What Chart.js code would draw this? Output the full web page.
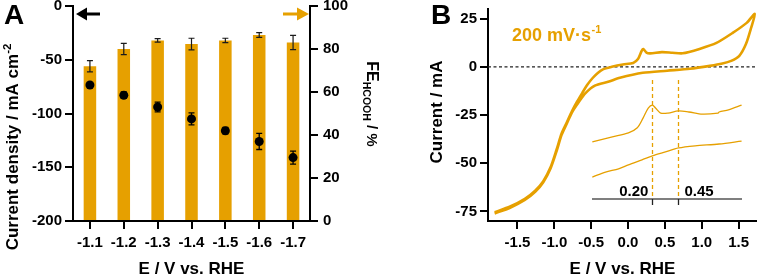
<!DOCTYPE html>
<html>
<head>
<meta charset="utf-8">
<script src="https://cdn.jsdelivr.net/npm/chart.js@4.4.1/dist/chart.umd.min.js"></script>
<style>
  body { margin: 0; background: #fff; }
  #wrap { position: relative; width: 757px; height: 276px; overflow: hidden; }
  canvas { position: absolute; }
</style>
</head>
<body>
<div id="wrap">
  <canvas id="chartA" width="380" height="276" style="left:0;top:0"></canvas>
  <canvas id="chartB" width="377" height="276" style="left:380px;top:0"></canvas>
  <canvas id="inset" width="154" height="136" style="left:592px;top:78px"></canvas>
</div>
<script>
// ---- panel A: electrolysis at fixed potential
const potentials = ['-1.1', '-1.2', '-1.3', '-1.4', '-1.5', '-1.6', '-1.7'];
const feHcooh = [72, 80, 84, 82.3, 84, 86.5, 83];
const feErr = [2.6, 2.6, 0.8, 2.7, 1.0, 1.1, 3.3];
const currentDensity = [-73.5, -83, -94, -105, -116, -126, -141];
const cdErr = [1.5, 3, 4.5, 5.5, 3, 7.5, 6];
const cdTicks = [0, -50, -100, -150, -200];
const feTicks = [0, 20, 40, 60, 80, 100];

// ---- panel B: cyclic voltammogram, 200 mV/s (path order: forward scan, then return)
const cvE = [-1.81, -1.6, -1.4, -1.26, -1.15, -1.05, -0.97, -0.9, -0.83, -0.76, -0.69, -0.62, -0.55, -0.48, -0.41, -0.34, -0.22, -0.07,
  0.07, 0.135, 0.185, 0.207, 0.25, 0.30, 0.46, 0.6, 0.74, 0.97, 1.2, 1.42, 1.61, 1.72,
  1.67, 1.60, 1.51, 1.40, 1.28, 1.11, 0.84, 0.53, 0.20, -0.11, -0.27, -0.45, -0.58, -0.67,
  -0.76, -0.83, -0.9, -0.97, -1.05, -1.15, -1.26, -1.4, -1.6, -1.81];
const cvI = [-75.5, -72.5, -68.5, -64.3, -59.3, -52, -43, -34.5, -28.8, -23, -18, -13.5, -9.2, -5.8, -3.2, -1.3, 0, 1.2,
  2, 4, 8.3, 9.2, 7.4, 7, 7.6, 7.3, 7, 9.3, 12.4, 17.6, 22.8, 27.5,
  20.2, 11.8, 5.7, 3.1, 1.7, 0.5, -1, -2, -3.1, -5.7, -7.8, -9.8, -13.8, -18.4,
  -23.6, -29.4, -35.2, -43.8, -52.6, -59.9, -64.9, -69.1, -73.1, -76.1];
const cvTicksX = [-1.5, -1.0, -0.5, 0, 0.5, 1.0, 1.5];
const cvTicksY = [-75, -50, -25, 0, 25];

// ---- inset: magnified region
const insetFwdE = [-0.377, -0.185, -0.03, 0.055, 0.11, 0.16, 0.20, 0.23, 0.28, 0.35, 0.45, 0.55, 0.68, 0.83, 0.84, 0.93, 1.056];
const insetFwdI = [-0.8, 0.6, 1.7, 3.1, 5.8, 8.6, 9.4, 8.6, 7.2, 7.2, 7.8, 7.5, 6.9, 7.2, 7.5, 8.1, 9.4];
const insetRevE = [-0.377, -0.25, -0.125, -0.03, 0.10, 0.20, 0.325, 0.45, 0.61, 0.84, 1.056];
const insetRevI = [-10.6, -9.2, -8.3, -7.2, -5.8, -4.7, -3.6, -2.5, -1.9, -1.4, -0.6];
const insetMarks = [0.20, 0.45];

const ORANGE = '#E6A000';
const FONT = "'Liberation Sans', Arial, sans-serif";
Chart.defaults.font.family = FONT;
Chart.defaults.color = '#000';

function richText(ctx, parts, x, y, rot, color) {
  ctx.save();
  ctx.translate(x, y);
  ctx.rotate(rot || 0);
  ctx.fillStyle = color || '#000';
  ctx.textBaseline = 'alphabetic';
  ctx.textAlign = 'left';
  let total = 0;
  parts.forEach(p => { ctx.font = 'bold ' + p[1] + 'px ' + FONT; p.w = ctx.measureText(p[0]).width; total += p.w; });
  let cx = -total / 2;
  parts.forEach(p => { ctx.font = 'bold ' + p[1] + 'px ' + FONT; ctx.fillText(p[0], cx, -(p[2] || 0)); cx += p.w; });
  ctx.restore();
}

function axisStyle(extra) {
  return Object.assign({
    grid: { drawOnChartArea: false, tickLength: 8, color: '#000', tickColor: '#000', lineWidth: 2, tickWidth: 2 },
    border: { color: '#000', width: 2 },
    ticks: { color: '#000', font: { size: 15, weight: 'bold' }, padding: 3 }
  }, extra);
}

// ---------- chart A
const panelA = {
  id: 'panelA',
  afterDraw(chart) {
    const ctx = chart.ctx, a = chart.chartArea;
    const y = chart.scales.y, y1 = chart.scales.y1;
    ctx.save();
    ctx.strokeStyle = '#1a1a1a';
    ctx.lineWidth = 1.2;
    const bars = chart.getDatasetMeta(0).data;
    const dots = chart.getDatasetMeta(1).data;
    function errBar(px, lo, hi) {
      ctx.beginPath();
      ctx.moveTo(px, lo); ctx.lineTo(px, hi);
      ctx.moveTo(px - 3, lo); ctx.lineTo(px + 3, lo);
      ctx.moveTo(px - 3, hi); ctx.lineTo(px + 3, hi);
      ctx.stroke();
    }
    feHcooh.forEach((v, i) => errBar(bars[i].x, y1.getPixelForValue(v - feErr[i]), y1.getPixelForValue(v + feErr[i])));
    ctx.strokeStyle = '#000';
    ctx.lineWidth = 1.3;
    currentDensity.forEach((v, i) => errBar(dots[i].x, y.getPixelForValue(v - cdErr[i]), y.getPixelForValue(v + cdErr[i])));

    // arrows pointing to each axis
    const ay = a.top + 8;
    ctx.fillStyle = '#000';
    ctx.fillRect(a.left + 12, ay - 1.5, 15, 3);
    ctx.beginPath();
    ctx.moveTo(a.left + 3, ay); ctx.lineTo(a.left + 14, ay - 6.5); ctx.lineTo(a.left + 14, ay + 6.5); ctx.closePath(); ctx.fill();
    ctx.fillStyle = ORANGE;
    ctx.fillRect(a.right - 27, ay - 1.5, 16, 3);
    ctx.beginPath();
    ctx.moveTo(a.right - 1, ay); ctx.lineTo(a.right - 13, ay - 6.5); ctx.lineTo(a.right - 13, ay + 6.5); ctx.closePath(); ctx.fill();
    ctx.restore();

    richText(ctx, [['A', 28]], 14, 24, 0);
    richText(ctx, [['Current density / mA cm', 17], ['-2', 11.5, 7]], 18, 147, -Math.PI / 2);
    richText(ctx, [['FE', 16], ['HCOOH', 10.5, -4], [' / %', 15]], 367, 104, Math.PI / 2);
    richText(ctx, [['E / V vs. RHE', 17]], (a.left + a.right) / 2, 274, 0);
  }
};

new Chart(document.getElementById('chartA'), {
  type: 'bar',
  data: {
    labels: potentials,
    datasets: [
      { type: 'bar', data: feHcooh, yAxisID: 'y1', backgroundColor: ORANGE, barPercentage: 0.37, categoryPercentage: 1, order: 2 },
      { type: 'line', data: currentDensity, yAxisID: 'y', showLine: false, pointRadius: 4.5,
        pointBackgroundColor: '#000', pointBorderColor: '#000', pointBorderWidth: 0, order: 1 }
    ]
  },
  options: {
    responsive: false, animation: false, devicePixelRatio: 1,
    layout: { padding: { top: 6, left: 0, right: 0, bottom: 0 } },
    plugins: { legend: { display: false }, tooltip: { enabled: false } },
    scales: {
      x: axisStyle({
        grid: { offset: false, drawOnChartArea: false, tickLength: 8, color: '#000', tickColor: '#000', lineWidth: 2, tickWidth: 2 },
        ticks: { color: '#000', font: { size: 15, weight: 'bold' }, padding: 5, maxRotation: 0 },
        afterFit(s) { s.height = 55; s.paddingLeft = 0; s.paddingRight = 0; }
      }),
      y: axisStyle({
        position: 'left', min: -200, max: 0,
        afterBuildTicks(s) { s.ticks = cdTicks.map(v => ({ value: v })); },
        afterFit(s) { s.width = 73; s.paddingTop = 0; s.paddingBottom = 0; }
      }),
      y1: axisStyle({
        position: 'right', min: 0, max: 100,
        ticks: { color: '#000', font: { size: 15, weight: 'bold' }, padding: 5 },
        afterBuildTicks(s) { s.ticks = feTicks.map(v => ({ value: v })); },
        afterFit(s) { s.width = 70; s.paddingTop = 0; s.paddingBottom = 0; }
      })
    }
  },
  plugins: [panelA]
});

// ---------- chart B
const panelB = {
  id: 'panelB',
  beforeDatasetsDraw(chart) {
    const ctx = chart.ctx, a = chart.chartArea;
    const zy = chart.scales.y.getPixelForValue(0);
    ctx.save();
    ctx.strokeStyle = '#222';
    ctx.lineWidth = 1.2;
    ctx.setLineDash([3, 2.5]);
    ctx.beginPath(); ctx.moveTo(a.left, zy); ctx.lineTo(a.right, zy); ctx.stroke();
    ctx.restore();
  },
  afterDraw(chart) {
    const ctx = chart.ctx, a = chart.chartArea;
    richText(ctx, [['B', 28]], 61, 24, 0);
    ctx.save();
    ctx.fillStyle = ORANGE;
    ctx.textBaseline = 'alphabetic';
    ctx.font = 'bold 18px ' + FONT;
    ctx.fillText('200 mV\u00B7s', 132, 41);
    const w = ctx.measureText('200 mV\u00B7s').width;
    ctx.font = 'bold 11px ' + FONT;
    ctx.fillText('-1', 132 + w + 0.5, 33);
    ctx.restore();
    richText(ctx, [['Current / mA', 17]], 62, 112, -Math.PI / 2);
    richText(ctx, [['E / V vs. RHE', 17]], (a.left + a.right) / 2, 274, 0);
  }
};

new Chart(document.getElementById('chartB'), {
  type: 'scatter',
  data: {
    datasets: [{
      data: cvE.map((e, i) => ({ x: e, y: cvI[i] })),
      showLine: true, borderColor: ORANGE, borderWidth: 2.6, pointRadius: 0, tension: 0.25, fill: false
    }]
  },
  options: {
    responsive: false, animation: false, devicePixelRatio: 1,
    layout: { padding: { top: 9, left: 0, right: 0, bottom: 0 } },
    plugins: { legend: { display: false }, tooltip: { enabled: false } },
    scales: {
      x: axisStyle({
        type: 'linear', min: -1.9, max: 1.75,
        ticks: { color: '#000', font: { size: 15, weight: 'bold' }, padding: 5, maxRotation: 0, callback: v => v.toFixed(1) },
        afterBuildTicks(s) { s.ticks = cvTicksX.map(v => ({ value: v })); },
        afterFit(s) { s.height = 55; s.paddingLeft = 0; s.paddingRight = 0; }
      }),
      y: axisStyle({
        min: -80, max: 30,
        afterBuildTicks(s) { s.ticks = cvTicksY.map(v => ({ value: v })); },
        afterFit(s) { s.width = 108; s.paddingTop = 0; s.paddingBottom = 0; }
      })
    }
  },
  plugins: [panelB]
});

// ---------- inset
const insetDeco = {
  id: 'insetDeco',
  beforeDatasetsDraw(chart) {
    const ctx = chart.ctx, a = chart.chartArea, x = chart.scales.x;
    ctx.save();
    ctx.strokeStyle = ORANGE;
    ctx.lineWidth = 1.3;
    ctx.setLineDash([4, 3]);
    insetMarks.forEach(m => {
      const px = Math.round(x.getPixelForValue(m)) + 0.5;
      ctx.beginPath(); ctx.moveTo(px, a.top); ctx.lineTo(px, a.bottom); ctx.stroke();
    });
    ctx.restore();
  },
  afterDraw(chart) {
    const ctx = chart.ctx, a = chart.chartArea, x = chart.scales.x;
    ctx.save();
    ctx.strokeStyle = '#555';
    ctx.lineWidth = 1.6;
    ctx.beginPath(); ctx.moveTo(a.left, a.bottom); ctx.lineTo(a.right, a.bottom); ctx.stroke();
    ctx.strokeStyle = '#222';
    ctx.lineWidth = 1.3;
    insetMarks.forEach(m => {
      const px = Math.round(x.getPixelForValue(m)) + 0.5;
      ctx.beginPath(); ctx.moveTo(px, a.bottom); ctx.lineTo(px, a.bottom + 6); ctx.stroke();
    });
    ctx.fillStyle = '#000';
    ctx.font = 'bold 15px ' + FONT;
    ctx.textBaseline = 'alphabetic';
    ctx.textAlign = 'right';
    ctx.fillText(insetMarks[0].toFixed(2), x.getPixelForValue(insetMarks[0]) - 4, a.bottom - 3);
    ctx.textAlign = 'left';
    ctx.fillText(insetMarks[1].toFixed(2), x.getPixelForValue(insetMarks[1]) + 6, a.bottom - 3);
    ctx.restore();
  }
};

new Chart(document.getElementById('inset'), {
  type: 'scatter',
  data: {
    datasets: [
      { data: insetFwdE.map((e, i) => ({ x: e, y: insetFwdI[i] })), showLine: true, borderColor: ORANGE, borderWidth: 1.3, pointRadius: 0, tension: 0.3 },
      { data: insetRevE.map((e, i) => ({ x: e, y: insetRevI[i] })), showLine: true, borderColor: ORANGE, borderWidth: 1.3, pointRadius: 0, tension: 0.3 }
    ]
  },
  options: {
    responsive: false, animation: false, devicePixelRatio: 1,
    layout: { padding: { top: 2, left: 0, right: 4, bottom: 15 } },
    plugins: { legend: { display: false }, tooltip: { enabled: false } },
    scales: {
      x: { type: 'linear', display: false, min: -0.38, max: 1.06 },
      y: { display: false, min: -16.7, max: 16.4 }
    }
  },
  plugins: [insetDeco]
});
</script>
</body>
</html>
